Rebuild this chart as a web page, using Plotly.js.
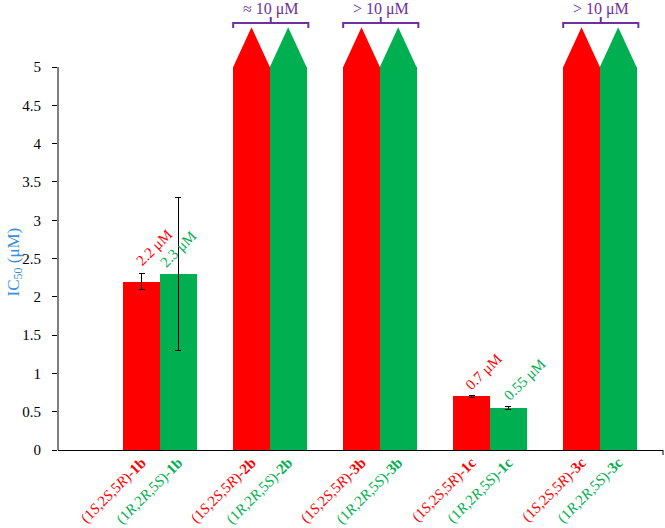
<!DOCTYPE html>
<html>
<head>
<meta charset="utf-8">
<script src="https://cdn.plot.ly/plotly-3.0.1.min.js"></script>
<style>html,body{margin:0;padding:0;background:#fff;}#chart{width:665px;height:528px;}</style>
</head>
<body>
<div id="chart"></div>
<script>
// ---- data ----
const compounds = ['1b', '2b', '3b', '1c', '3c'];
const redConfig = '(1<i>S</i>,2<i>S</i>,5<i>R</i>)';
const greenConfig = '(1<i>R</i>,2<i>R</i>,5<i>S</i>)';
const ic50Red = [2.2, 10, 10, 0.7, 10];
const ic50Green = [2.3, 10, 10, 0.55, 10];
const errRed = [0.1, null, null, 0.01, null];
const errGreen = [1.0, null, null, 0.02, null];
const valueLabelRed = ['2.2 μM', '', '', '0.7 μM', ''];
const valueLabelGreen = ['2.3 μM', '', '', '0.55 μM', ''];
const groupLabels = ['', '≈ 10 μM', '> 10 μM', '', '> 10 μM'];
const yTickVals = [0, 0.5, 1, 1.5, 2, 2.5, 3, 3.5, 4, 4.5, 5];
const yTickText = ['0', '0.5', '1', '1.5', '2', '2.5', '3', '3.5', '4', '4.5', '5'];
const axisCap = 5;

// ---- style ----
const RED = '#FF0000', GREEN = '#00B050', PURPLE = '#7030A0';
const FONT = 'Liberation Serif, Times New Roman, serif';
const redShift = [[12, 34], null, null, [12, 24], null];
const greenShift = [[0, 25], null, null, [16, 28], null];

const xRed = compounds.map((c, i) => i * 3);
const xGreen = compounds.map((c, i) => i * 3 + 1);
const capped = v => Math.min(v, axisCap);
const errArr = a => a.map(v => (v === null ? NaN : v));

const traces = [
  {type: 'bar', x: xRed, y: ic50Red.map(capped), width: 1, marker: {color: RED},
   error_y: {type: 'data', array: errArr(errRed), visible: true, color: '#000', thickness: 1, width: 3},
   hoverinfo: 'none', showlegend: false},
  {type: 'bar', x: xGreen, y: ic50Green.map(capped), width: 1, marker: {color: GREEN},
   error_y: {type: 'data', array: errArr(errGreen), visible: true, color: '#000', thickness: 1, width: 3},
   hoverinfo: 'none', showlegend: false}
];

const shapes = [];
const annotations = [];

// arrow tops for bars beyond the axis cap
function arrowTop(x, v, color) {
  if (v <= axisCap) return;
  shapes.push({type: 'path', xref: 'x', yref: 'y',
    path: `M ${x - 0.5},${axisCap} L ${x},${axisCap + 0.52} L ${x + 0.5},${axisCap} Z`,
    fillcolor: color, line: {width: 0}});
}
compounds.forEach((c, i) => {
  arrowTop(xRed[i], ic50Red[i], RED);
  arrowTop(xGreen[i], ic50Green[i], GREEN);
  if (groupLabels[i]) {
    const l = xRed[i] - 0.5, r = xGreen[i] + 0.55, m = (l + r) / 2;
    shapes.push({type: 'path', xref: 'x', yref: 'y',
      path: `M ${l},${axisCap + 0.51} L ${l},${axisCap + 0.576} L ${r},${axisCap + 0.576} L ${r},${axisCap + 0.51} M ${m},${axisCap + 0.576} L ${m},${axisCap + 0.654}`,
      line: {color: PURPLE, width: 2}});
    annotations.push({xref: 'x', yref: 'y', x: m, y: axisCap + 0.759, text: groupLabels[i],
      showarrow: false, font: {family: FONT, size: 16, color: PURPLE}, xanchor: 'center', yanchor: 'middle'});
  }
  if (valueLabelRed[i]) {
    annotations.push({xref: 'x', yref: 'y', x: xRed[i], y: ic50Red[i], text: valueLabelRed[i],
      textangle: -45, showarrow: false, font: {family: FONT, size: 15, color: RED},
      xanchor: 'center', yanchor: 'middle', xshift: redShift[i][0], yshift: redShift[i][1]});
  }
  if (valueLabelGreen[i]) {
    annotations.push({xref: 'x', yref: 'y', x: xGreen[i], y: ic50Green[i], text: valueLabelGreen[i],
      textangle: -45, showarrow: false, font: {family: FONT, size: 15, color: GREEN},
      xanchor: 'center', yanchor: 'middle', xshift: greenShift[i][0], yshift: greenShift[i][1]});
  }
});

// y axis line only up to the cap, plus right end tick of x axis
shapes.push({type: 'line', xref: 'paper', yref: 'y', x0: 0, x1: 0, y0: 0, y1: axisCap, line: {color: '#000', width: 1}});
shapes.push({type: 'line', xref: 'paper', yref: 'paper', x0: 1, x1: 1, y0: 0, y1: -5 / 450, line: {color: '#000', width: 1}});

// y axis title
annotations.push({xref: 'paper', yref: 'y', x: -0.071, y: 2.45, text: 'IC<sub>50</sub> (μM)', textangle: -90,
  showarrow: false, font: {family: FONT, size: 17, color: '#3A8FD6'}, xanchor: 'center', yanchor: 'middle'});

const tickVals = [], tickText = [];
compounds.forEach((c, i) => {
  tickVals.push(xRed[i]);
  tickText.push(`<span style="color:${RED}">${redConfig}-<b>${c}</b></span>`);
  tickVals.push(xGreen[i]);
  tickText.push(`<span style="color:${GREEN}">${greenConfig}-<b>${c}</b></span>`);
});

const layout = {
  width: 665, height: 528,
  margin: {l: 58, r: 2, t: 0, b: 78, pad: 0},
  paper_bgcolor: '#fff', plot_bgcolor: '#fff',
  font: {family: FONT, size: 14, color: '#000'},
  xaxis: {range: [-2.277, 14.222], tickvals: tickVals, ticktext: tickText, tickangle: -45,
    showline: true, linecolor: '#000', linewidth: 1, showgrid: false, zeroline: false, ticks: '',
    tickfont: {family: FONT, size: 15}, ticklabelstandoff: -3, fixedrange: true},
  yaxis: {range: [0, 5.876], tickvals: yTickVals, ticktext: yTickText, ticks: 'outside', ticklen: 5,
    tickcolor: '#000', showline: false, showgrid: false, zeroline: false,
    tickfont: {family: FONT, size: 15, color: '#000'}, ticklabelstandoff: 8, fixedrange: true},
  bargap: 0,
  shapes: shapes,
  annotations: annotations
};

Plotly.newPlot('chart', traces, layout, {displayModeBar: false, staticPlot: true});
</script>
</body>
</html>
